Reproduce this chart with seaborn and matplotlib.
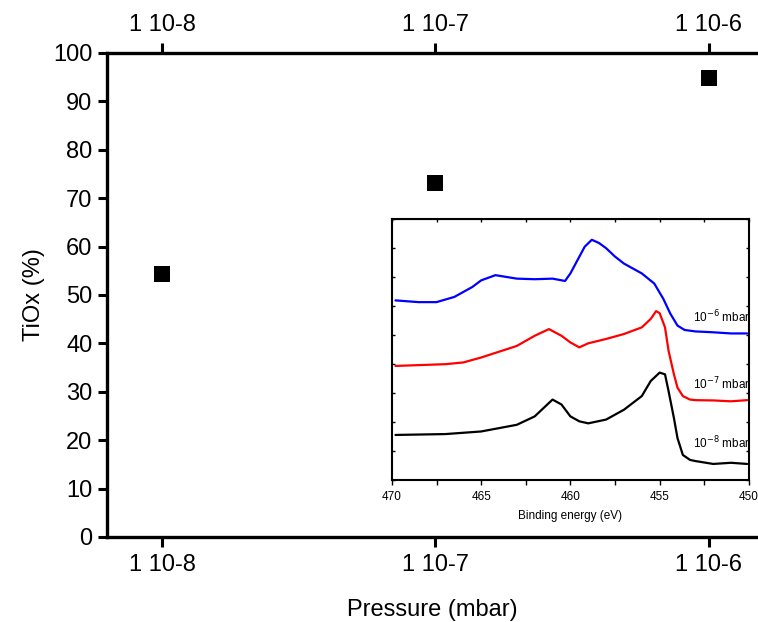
import numpy as np
import pandas as pd
import seaborn as sns
import matplotlib.pyplot as plt
from matplotlib.ticker import FixedLocator, NullLocator, NullFormatter

sns.set_style("ticks")
plt.rcParams['font.family'] = ['Liberation Sans', 'DejaVu Sans']
plt.rcParams.update({"text.color": "black", "axes.labelcolor": "black",
                     "xtick.color": "black", "ytick.color": "black",
                     "axes.edgecolor": "black"})

# main data: TiOx fraction vs oxygen pressure
pressure = [1e-8, 1e-7, 1e-6]
tiox = [54.3, 73.1, 94.8]
pressure_labels = ["1 10-8", "1 10-7", "1 10-6"]

# inset spectra (binding energy in eV, intensity in arbitrary offset units)
be_black = [469.8, 467, 465, 463, 462, 461.5, 461, 460.5, 460, 459.5, 459, 458, 457, 456,
            455.5, 455, 454.7, 454.5, 454.2, 454, 453.7, 453.3, 453, 452, 451, 450.1]
int_black = [1.56, 1.59, 1.68, 1.91, 2.20, 2.49, 2.78, 2.61, 2.20, 2.03, 1.96, 2.09, 2.43, 2.90,
             3.42, 3.71, 3.65, 3.07, 2.14, 1.45, 0.87, 0.70, 0.66, 0.56, 0.60, 0.56]

be_red = [469.8, 467, 466, 465, 463, 462, 461.2, 460.5, 460, 459.5, 459, 458, 457, 456,
          455.5, 455.2, 455, 454.7, 454.5, 454.2, 454, 453.7, 453.3, 453, 452, 451, 450.1]
int_red = [3.94, 4.00, 4.06, 4.23, 4.63, 4.98, 5.21, 4.98, 4.75, 4.58, 4.72, 4.87, 5.04, 5.27,
           5.56, 5.83, 5.76, 5.27, 4.46, 3.65, 3.19, 2.90, 2.78, 2.76, 2.75, 2.72, 2.76]

be_blue = [469.8, 468.5, 467.5, 466.5, 465.5, 465, 464.2, 463, 462, 461, 460.3, 460, 459.6,
           459.2, 458.8, 458.4, 458, 457.5, 457, 456, 455.3, 454.8, 454.4, 454, 453.6, 453,
           452, 451, 450.1]
int_blue = [6.20, 6.14, 6.14, 6.32, 6.66, 6.89, 7.07, 6.95, 6.93, 6.95, 6.87, 7.13, 7.59,
            8.05, 8.29, 8.18, 8.00, 7.71, 7.47, 7.13, 6.78, 6.26, 5.74, 5.33, 5.18, 5.13,
            5.10, 5.06, 5.06]

fig = plt.figure(figsize=(7.58, 6.22), dpi=100)
ax = fig.add_axes([0.1412, 0.1367, 0.8588, 0.7781])

df = pd.DataFrame({"pressure": pressure, "tiox": tiox})
sns.scatterplot(data=df, x="pressure", y="tiox", ax=ax, marker="s", s=120,
                color="black", edgecolor="black", linewidth=0, zorder=3)
ax.set_xscale("log")
ax.set_xlim(10 ** -8.201, 10 ** -5.82)
ax.set_ylim(0, 100)
ax.xaxis.set_major_locator(FixedLocator(pressure))
ax.xaxis.set_minor_locator(NullLocator())
ax.xaxis.set_minor_formatter(NullFormatter())
ax.set_xticks(pressure)
ax.set_xticklabels(pressure_labels)
ax.set_yticks(np.arange(0, 101, 10))
ax.tick_params(axis="both", which="major", direction="out", length=7.5, width=2.2,
               labelsize=17, pad=5)
ax.tick_params(axis="y", length=6.5, pad=4)
ax.tick_params(axis="x", top=True, labeltop=True, pad=5)
for side in ["left", "bottom", "top"]:
    ax.spines[side].set_linewidth(2.4)
ax.spines["right"].set_visible(False)
ax.set_xlabel("Pressure (mbar)", fontsize=17, labelpad=16)
ax.set_ylabel("TiOx (%)", fontsize=17, labelpad=6)

# inset with XPS spectra
ins = fig.add_axes([0.517, 0.228, 0.471, 0.4196])
for be, inten, col in [(be_black, int_black, "black"), (be_red, int_red, "red"),
                       (be_blue, int_blue, "blue")]:
    sns.lineplot(x=be, y=inten, ax=ins, color=col, linewidth=1.6, sort=False,
                 estimator=None)
ins.set_xlim(470, 450)
ins.set_ylim(0, 9)
ins.set_xticks([470, 465, 460, 455, 450])
ins.xaxis.set_minor_locator(FixedLocator(np.arange(450, 470.1, 2.5)))
ins.set_yticks(np.arange(0, 9.1, 1))
ins.set_yticklabels([])
ins.tick_params(axis="x", which="both", direction="out", length=3.5, width=1,
                labelsize=8.5, top=False, pad=4)
ins.tick_params(axis="y", direction="in", length=2.5, width=1, left=True, right=True)
ins.set_xlabel("Binding energy (eV)", fontsize=8.5, labelpad=5)
for side in ins.spines:
    ins.spines[side].set_linewidth(1.5)

# inward ticks along the inset's top edge
top = ins.secondary_xaxis("top")
top.set_xticks(np.arange(450, 470.1, 2.5))
top.set_xticklabels([])
top.tick_params(direction="in", length=2.5, width=1)

ins.text(449.9, 5.62, "10$^{-6}$ mbar", fontsize=8.5, ha="right", va="center")
ins.text(449.9, 3.30, "10$^{-7}$ mbar", fontsize=8.5, ha="right", va="center")
ins.text(449.9, 1.27, "10$^{-8}$ mbar", fontsize=8.5, ha="right", va="center")

fig.savefig("out.png", dpi=100)
